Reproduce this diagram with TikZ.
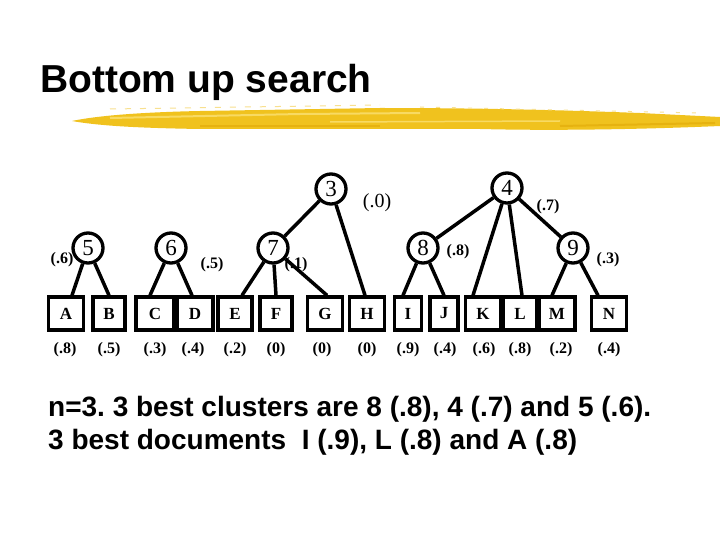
\documentclass[tikz,border=0pt]{standalone}
\usepackage{fontspec}
\setmainfont{Liberation Serif}
\setsansfont{Liberation Sans}
\definecolor{brushA}{HTML}{F0C21E}
\definecolor{brushB}{HTML}{F8DA62}
\definecolor{brushC}{HTML}{E6B210}
\begin{document}
\frenchspacing
\begin{tikzpicture}[x=1pt,y=-1pt,
  cn/.style={circle,draw,line width=3.3pt,minimum size=30pt,inner sep=0pt,font=\fontsize{23}{25}\selectfont},
  leaf/.style={rectangle,draw,line width=3.3pt,minimum height=33pt,inner sep=0pt,font=\bfseries\fontsize{17}{20}\selectfont},
  edge/.style={line width=3.5pt},
  wl/.style={font=\bfseries\fontsize{16}{18}\selectfont,inner sep=0pt},
  val/.style={font=\bfseries\fontsize{16}{18}\selectfont,inner sep=0pt}]
\useasboundingbox (0,0) rectangle (720,540);
\fill[white] (0,0) rectangle (720,540);
% title
\node[anchor=base west,inner sep=0pt,font=\sffamily\bfseries\fontsize{39}{46}\selectfont] (title) at (40,93) {Bottom up search};
% brush stroke
\fill[brushA] (72,121) .. controls (100,115) and (150,112) .. (200,111) -- (380,108) .. controls (480,108) and (560,110) .. (640,113) -- (720,117) -- (720,126) .. controls (650,129) and (560,131) .. (480,129) -- (300,129) -- (200,129) .. controls (140,128) and (100,126) .. (72,121) -- cycle;
\draw[brushB,line width=2pt] (110,118) -- (300,114) -- (420,113);
\draw[brushB,line width=1.5pt] (330,122) -- (560,121);
\draw[brushC,line width=2pt] (560,126) -- (715,123);
\draw[brushC,line width=1.5pt] (200,126) -- (380,126);
\draw[brushA!50,line width=1pt,dash pattern=on 6pt off 9pt] (110,109) -- (380,105);
\draw[brushA!50,line width=1pt,dash pattern=on 4pt off 12pt] (420,107) -- (700,113);
% tree nodes
\node[cn] (n3) at (331,189) {3};
\node[cn] (n4) at (507,188) {4};
\node[cn] (n5) at (88,248) {5};
\node[cn] (n6) at (171,248) {6};
\node[cn] (n7) at (273,248) {7};
\node[cn] (n8) at (423,248) {8};
\node[cn] (n9) at (573,248) {9};
% leaves
\node[leaf,minimum width=35pt] (A) at (66,313.5) {A};
\node[leaf,minimum width=32pt] (B) at (109,313.5) {B};
\node[leaf,minimum width=38pt] (C) at (155,313.5) {C};
\node[leaf,minimum width=36pt] (D) at (195,313.5) {D};
\node[leaf,minimum width=34pt] (E) at (235,313.5) {E};
\node[leaf,minimum width=32pt] (F) at (276,313.5) {F};
\node[leaf,minimum width=35pt] (G) at (325,313.5) {G};
\node[leaf,minimum width=35pt] (H) at (367,313.5) {H};
\node[leaf,minimum width=27pt] (I) at (408,313.5) {I};
\node[leaf,minimum width=28pt] (J) at (444,313.5) {J};
\node[leaf,minimum width=35pt] (K) at (483,313.5) {K};
\node[leaf,minimum width=34pt] (L) at (520,313.5) {L};
\node[leaf,minimum width=36pt] (M) at (557,313.5) {M};
\node[leaf,minimum width=35pt] (N) at (609,313.5) {N};
% weights of clusters
\node[wl] (w5) at (62,260) {(.6)};
\node[wl] (w6) at (212,265) {(.5)};
\node[wl] (w7) at (296,265) {(.1)};
\node[inner sep=0pt,font=\fontsize{20}{24}\selectfont] (w3) at (377,203) {(.0)};
\node[wl] (w4) at (548,207) {(.7)};
\node[wl] (w8) at (458,252) {(.8)};
\node[wl] (w9) at (608,260) {(.3)};
% edges
\draw[edge] (n3) -- (n7);
\draw[edge] (n3) -- ([xshift=-2pt]H.north);
\draw[edge] (n4) -- (n8);
\draw[edge] (n4) -- (n9);
\draw[edge] (n4) -- ([xshift=-10pt]K.north);
\draw[edge] (n4) -- ([xshift=2pt]L.north);
\draw[edge] (n5) -- ([xshift=6pt]A.north);
\draw[edge] (n5) -- (B.north);
\draw[edge] (n6) -- ([xshift=-5pt]C.north);
\draw[edge] (n6) -- ([xshift=-3pt]D.north);
\draw[edge] (n7) -- ([xshift=7pt]E.north);
\draw[edge] (n7) -- (F.north);
\draw[edge] (n7) -- ([xshift=2pt]G.north);
\draw[edge] (n8) -- ([xshift=-5pt]I.north);
\draw[edge] (n8) -- (J.north);
\draw[edge] (n9) -- ([xshift=-5pt]M.north);
\draw[edge] (n9) -- ([xshift=-11pt]N.north);
% leaf values
\node[val] (vA) at (65,350) {(.8)};
\node[val] (vB) at (109,350) {(.5)};
\node[val] (vC) at (155,350) {(.3)};
\node[val] (vD) at (193,350) {(.4)};
\node[val] (vE) at (235,350) {(.2)};
\node[val] (vF) at (276,350) {(0)};
\node[val] (vG) at (322,350) {(0)};
\node[val] (vH) at (367,350) {(0)};
\node[val] (vI) at (408,350) {(.9)};
\node[val] (vJ) at (445,350) {(.4)};
\node[val] (vK) at (484,350) {(.6)};
\node[val] (vL) at (520,350) {(.8)};
\node[val] (vM) at (561,350) {(.2)};
\node[val] (vN) at (609,350) {(.4)};
% bottom text
\node[anchor=base west,inner sep=0pt,font=\sffamily\bfseries\fontsize{28}{34}\selectfont] (t1) at (48,416) {n=3. 3 best clusters are 8 (.8), 4 (.7) and 5 (.6).};
\node[anchor=base west,inner sep=0pt,font=\sffamily\bfseries\fontsize{28}{34}\selectfont] (t2) at (48,449) {3 best documents\ \ I (.9), L (.8) and A (.8)};
\end{tikzpicture}
\end{document}
